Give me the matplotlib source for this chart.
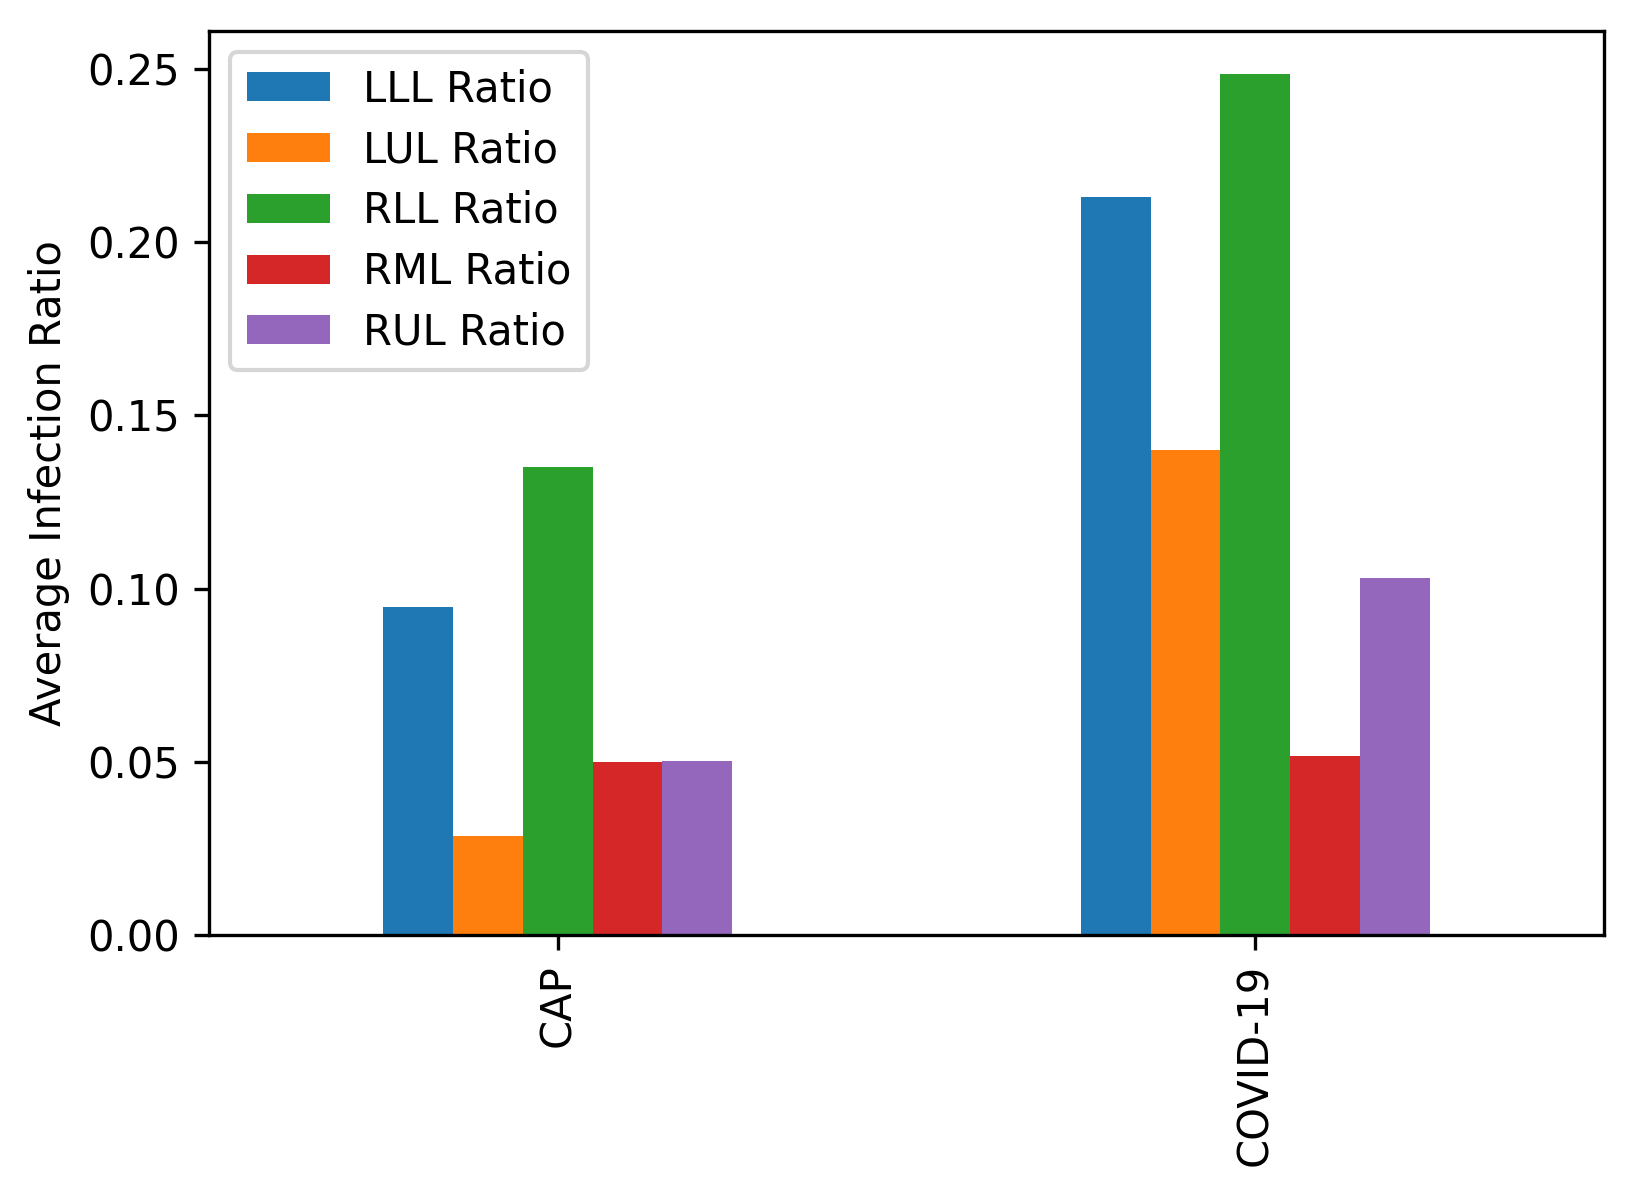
import matplotlib
matplotlib.use("Agg")
import matplotlib.pyplot as plt
import numpy as np

categories = ["CAP", "COVID-19"]
series_names = ["LLL Ratio", "LUL Ratio", "RLL Ratio", "RML Ratio", "RUL Ratio"]
lll = [0.0948, 0.2131]
lul = [0.0285, 0.1399]
rll = [0.1350, 0.2485]
rml = [0.0498, 0.0516]
rul = [0.0501, 0.1029]
series_values = [lll, lul, rll, rml, rul]
colors = ["#1f77b4", "#ff7f0e", "#2ca02c", "#d62728", "#9467bd"]

fig = plt.figure(figsize=(1633/300, 1197/300), dpi=300)
ax = fig.add_axes([209/1633, 1-935/1197, 1395/1633, 904/1197])

x = np.arange(len(categories))
w = 0.1
n = len(series_names)
for i, (name, vals) in enumerate(zip(series_names, series_values)):
    ax.bar(x + (i - (n - 1) / 2) * w, vals, w, color=colors[i], label=name)

ax.set_xlim(-0.5, len(categories) - 0.5)
ax.set_xticks(x)
ax.set_xticklabels(categories, rotation=90)
ax.set_ylabel("Average Infection Ratio")
ax.legend(loc="upper left", labelspacing=0.45)

fig.savefig("out.png", dpi=300)
